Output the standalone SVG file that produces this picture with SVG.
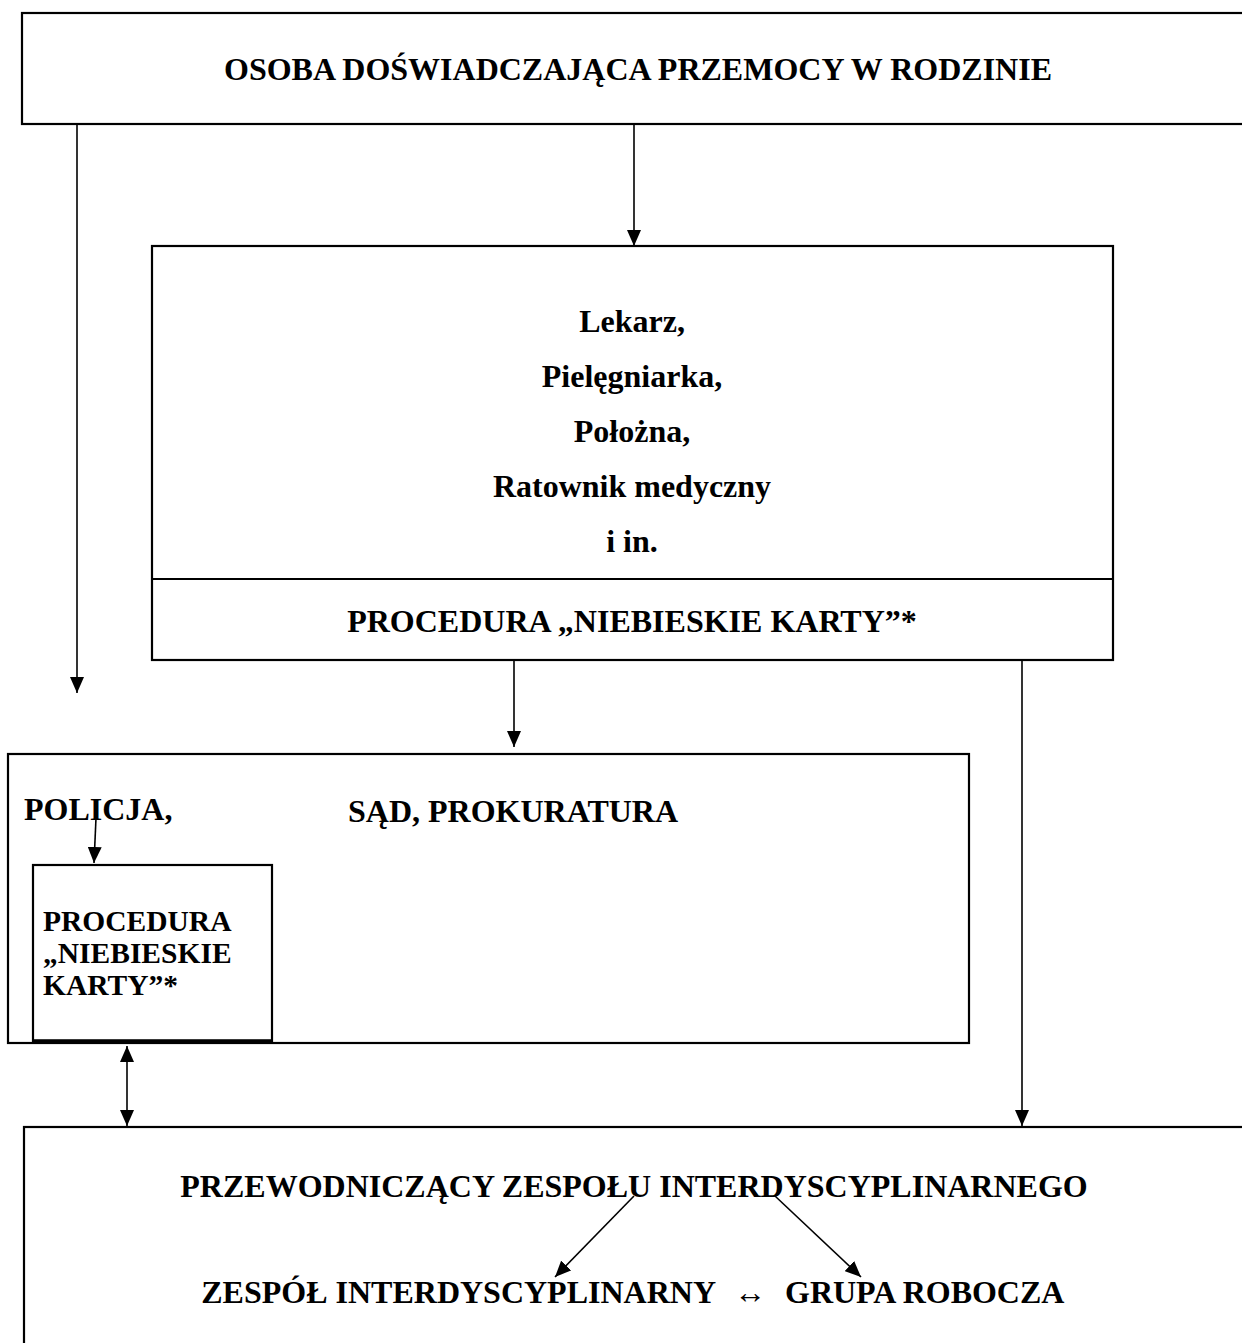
<svg xmlns="http://www.w3.org/2000/svg" width="1242" height="1343" viewBox="0 0 1242 1343">
<style>
.box{fill:#fff;stroke:#000;stroke-width:2.2}
.t{font-family:"Liberation Serif","Times New Roman",serif;font-weight:bold;font-size:32px;fill:#000}
.c{text-anchor:middle}
.s{font-size:29.5px}
.ln{fill:none;stroke:#000;stroke-width:1.6}
</style>
<defs>
<marker id="ah" markerUnits="userSpaceOnUse" markerWidth="16" markerHeight="14" refX="16" refY="7" orient="auto">
<path d="M0,0 L16,7 L0,14 z" fill="#000"/>
</marker>
<marker id="ahs" markerUnits="userSpaceOnUse" markerWidth="16" markerHeight="14" refX="0" refY="7" orient="auto">
<path d="M16,0 L0,7 L16,14 z" fill="#000"/>
</marker>
</defs>
<rect width="1242" height="1343" fill="#fff"/>

<g id="osoba">
<rect class="box" x="22" y="13" width="1240" height="111"/>
<text class="t c" x="638" y="80">OSOBA DOŚWIADCZAJĄCA PRZEMOCY W RODZINIE</text>
</g>

<g id="medycy">
<rect class="box" x="152" y="246" width="961" height="414"/>
<line x1="152" y1="579" x2="1113" y2="579" stroke="#000" stroke-width="2.2"/>
<text class="t c" x="632" y="332">Lekarz,</text>
<text class="t c" x="632" y="387">Pielęgniarka,</text>
<text class="t c" x="632" y="442">Położna,</text>
<text class="t c" x="632" y="497">Ratownik medyczny</text>
<text class="t c" x="632" y="552">i in.</text>
<text class="t c" x="632" y="632">PROCEDURA „NIEBIESKIE KARTY”*</text>
</g>

<g id="policja">
<rect class="box" x="8" y="754" width="961" height="289"/>
<text class="t" x="24" y="820">POLICJA,</text>
<text class="t" x="348" y="822">SĄD, PROKURATURA</text>
</g>

<g id="procedura-policja">
<rect class="box" x="33" y="865" width="239" height="176"/>
<line x1="33" y1="1041" x2="272" y2="1041" stroke="#000" stroke-width="3.5"/>
<text class="t s" x="43" y="931">PROCEDURA</text>
<text class="t s" x="43" y="963">„NIEBIESKIE</text>
<text class="t s" x="43" y="995">KARTY”*</text>
</g>

<g id="zespol">
<rect class="box" x="24" y="1127" width="1240" height="240"/>
<text class="t c" x="634" y="1197">PRZEWODNICZĄCY ZESPOŁU INTERDYSCYPLINARNEGO</text>
<text class="t" x="716" y="1303" text-anchor="end">ZESPÓŁ INTERDYSCYPLINARNY</text>
<text class="t c" x="750" y="1303">↔</text>
<text class="t" x="785" y="1303">GRUPA ROBOCZA</text>
</g>

<g id="connectors">
<line class="ln" x1="77" y1="124" x2="77" y2="693" marker-end="url(#ah)"/>
<line class="ln" x1="634" y1="124" x2="634" y2="246" marker-end="url(#ah)"/>
<line class="ln" x1="514" y1="660" x2="514" y2="747" marker-end="url(#ah)"/>
<line class="ln" x1="1022" y1="660" x2="1022" y2="1126" marker-end="url(#ah)"/>
<line class="ln" x1="96" y1="818" x2="94" y2="863" marker-end="url(#ah)"/>
<line class="ln" x1="127" y1="1046" x2="127" y2="1126" marker-start="url(#ahs)" marker-end="url(#ah)"/>
<line class="ln" x1="634" y1="1196" x2="555" y2="1277" marker-end="url(#ah)"/>
<line class="ln" x1="775" y1="1196" x2="861" y2="1277" marker-end="url(#ah)"/>
</g>
</svg>
